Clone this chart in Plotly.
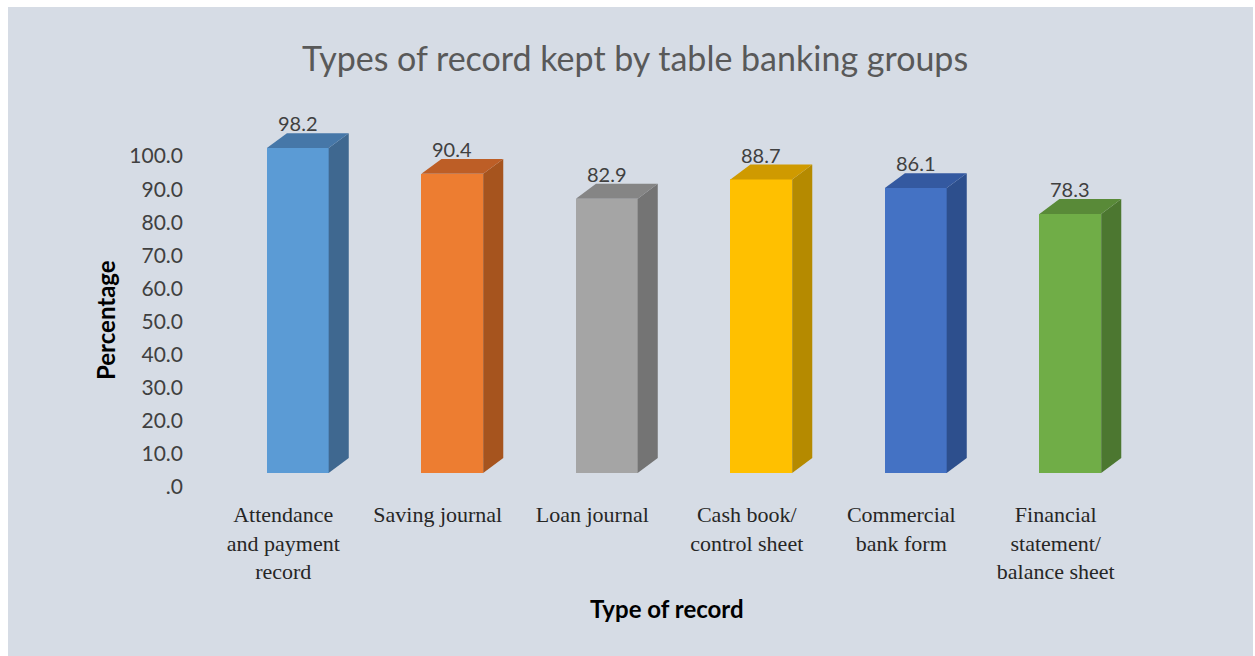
import plotly.graph_objects as go

# ---- data ----
categories = [
    "Attendance<br>and payment<br>record",
    "Saving journal",
    "Loan journal",
    "Cash book/<br>control sheet",
    "Commercial<br>bank form",
    "Financial<br>statement/<br>balance sheet",
]
percentages = [98.2, 90.4, 82.9, 88.7, 86.1, 78.3]
y_ticks = [0, 10, 20, 30, 40, 50, 60, 70, 80, 90, 100]
y_tick_text = [".0"] + [f"{t:.1f}" for t in y_ticks[1:]]

front_colors = ["#5B9BD5", "#ED7D31", "#A5A5A5", "#FFC000", "#4472C4", "#70AD47"]
top_colors = ["#4677A8", "#BD5E26", "#858585", "#CF9A00", "#3459A0", "#598A38"]
side_colors = ["#3F6890", "#A6541E", "#747474", "#B58A00", "#2D4F8D", "#4C7730"]

# ---- geometry of the pseudo-3D columns (axis units) ----
W, H = 1255, 656
ML, MR, MT, MB = 206, 122, 109, 183
Y_MAX = 110
bar_offset = -0.106     # front face starts this far from the category centre
bar_width = 0.40
depth_x = 0.13          # horizontal depth of the side face
depth_y = 4.5           # vertical rise of the top face

plot_w = W - ML - MR
plot_h = H - MT - MB


def px_x(px):
    return (px - ML) / plot_w


def px_y(py):
    return (H - MB - py) / plot_h


xs = list(range(len(categories)))
fig = go.Figure()

# front faces
fig.add_trace(go.Bar(
    x=xs, y=percentages, base=0,
    offset=bar_offset, width=bar_width,
    marker=dict(color=front_colors, line=dict(width=0)),
    hoverinfo="skip", showlegend=False,
))

# side and top faces
for i, v in enumerate(percentages):
    xl = i + bar_offset
    xr = xl + bar_width
    fig.add_trace(go.Scatter(
        x=[xr, xr + depth_x, xr + depth_x, xr, xr],
        y=[0, depth_y, v + depth_y, v, 0],
        mode="lines", fill="toself", fillcolor=side_colors[i],
        line=dict(width=0), hoverinfo="skip", showlegend=False,
    ))
    fig.add_trace(go.Scatter(
        x=[xl, xl + depth_x, xr + depth_x, xr, xl],
        y=[v, v + depth_y, v + depth_y, v, v],
        mode="lines", fill="toself", fillcolor=top_colors[i],
        line=dict(width=0), hoverinfo="skip", showlegend=False,
    ))

# value labels
annotations = []
for i, v in enumerate(percentages):
    annotations.append(dict(
        x=i + bar_offset + bar_width / 2, y=v + depth_y,
        xref="x", yref="y", text=f"{v:.1f}", showarrow=False,
        xanchor="center", yanchor="middle", yshift=10,
        font=dict(family="Lato", size=20, color="#404040"),
    ))

# axis titles
annotations.append(dict(
    x=px_x(105), y=px_y(320), xref="paper", yref="paper",
    xanchor="center", yanchor="middle",
    text="<b>Percentage</b>", textangle=-90, showarrow=False,
    font=dict(family="Lato", size=24, color="#000000"),
))
annotations.append(dict(
    x=px_x(667), y=px_y(608), xref="paper", yref="paper",
    xanchor="center", yanchor="middle",
    text="<b>Type of record</b>", showarrow=False,
    font=dict(family="Lato", size=24, color="#000000"),
))
# chart title
annotations.append(dict(
    x=px_x(635), y=px_y(57), xref="paper", yref="paper",
    xanchor="center", yanchor="middle",
    text="Types of record kept by table banking groups", showarrow=False,
    font=dict(family="Lato", size=34, color="#595959"),
))

# thin white frame along the top, left and right edge
shapes = [
    dict(type="rect", xref="paper", yref="paper", layer="below",
         x0=px_x(0), x1=px_x(W), y0=px_y(7), y1=px_y(0),
         fillcolor="#FFFFFF", line=dict(width=0)),
    dict(type="rect", xref="paper", yref="paper", layer="below",
         x0=px_x(0), x1=px_x(8), y0=px_y(H), y1=px_y(0),
         fillcolor="#FFFFFF", line=dict(width=0)),
    dict(type="rect", xref="paper", yref="paper", layer="below",
         x0=px_x(W - 2), x1=px_x(W), y0=px_y(H), y1=px_y(0),
         fillcolor="#FFFFFF", line=dict(width=0)),
]

fig.update_layout(
    autosize=True,
    margin=dict(l=ML, r=MR, t=MT, b=MB),
    paper_bgcolor="#D6DCE5", plot_bgcolor="rgba(0,0,0,0)",
    bargap=0, showlegend=False,
    annotations=annotations, shapes=shapes,
    xaxis=dict(
        range=[-0.5, len(categories) - 0.5],
        tickvals=xs, ticktext=categories,
        showgrid=False, zeroline=False, showline=False, ticks="",
        ticklabelstandoff=26,
        tickfont=dict(family="Liberation Serif", size=22, color="#262626"),
        fixedrange=True,
    ),
    yaxis=dict(
        range=[0, Y_MAX],
        tickvals=y_ticks, ticktext=y_tick_text,
        showgrid=False, zeroline=False, showline=False, ticks="",
        ticklabelstandoff=22, ticklabelshift=14,
        tickfont=dict(family="Lato", size=21, color="#404040"),
        fixedrange=True,
    ),
)

fig.write_html("out.html", default_width="100vw", default_height="100vh",
               config={"responsive": True})
